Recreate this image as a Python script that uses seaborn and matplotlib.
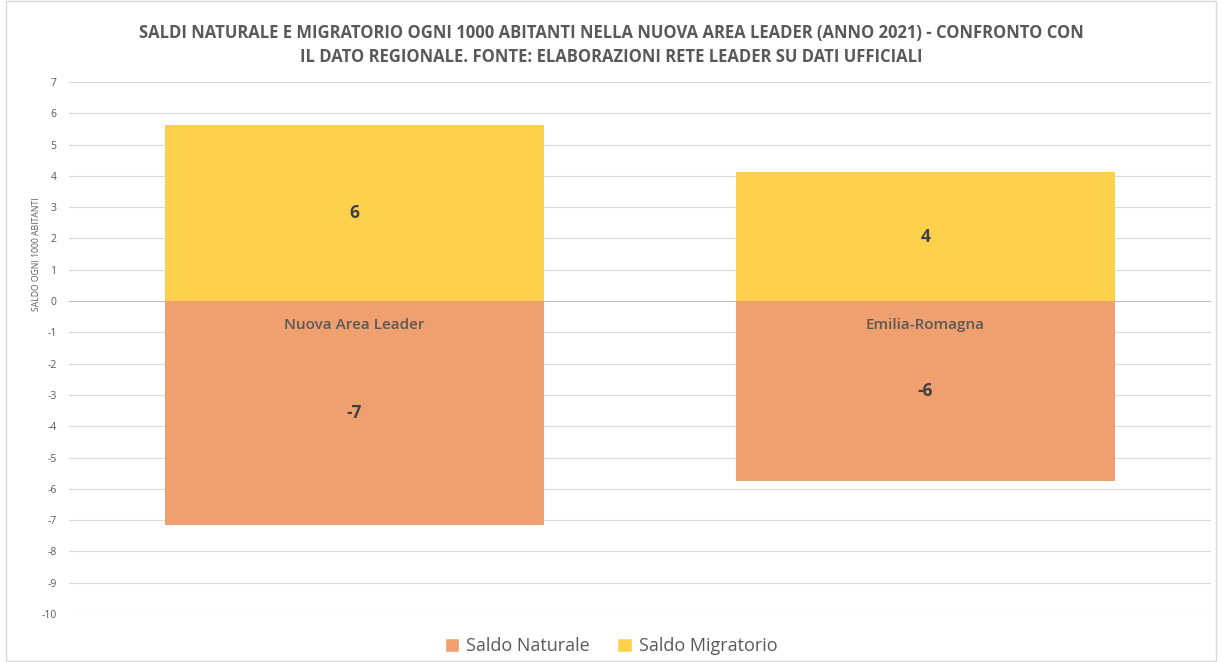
import matplotlib
matplotlib.use("Agg")
import matplotlib.pyplot as plt
import seaborn as sns
import pandas as pd
from matplotlib.patches import Patch, Rectangle

categories = ["Nuova Area Leader", "Emilia-Romagna"]
saldo_naturale = [-7.16, -5.75]
saldo_migratorio = [5.62, 4.12]
y_ticks = list(range(-10, 8))

title = ("SALDI NATURALE E MIGRATORIO OGNI 1000 ABITANTI NELLA NUOVA AREA LEADER (ANNO 2021) - CONFRONTO CON\n"
         "IL DATO REGIONALE. FONTE: ELABORAZIONI RETE LEADER SU DATI UFFICIALI")

c_nat = "#EFA06E"
c_mig = "#FDD14B"
txt = "#595959"

sns.set_theme(style="white")
plt.rcParams["font.family"] = ["Open Sans", "DejaVu Sans"]

fig = plt.figure(figsize=(12.22, 6.62), dpi=100)
ax = fig.add_axes([69/1222, 1-614/662, (1211-69)/1222, (614-82)/662])

df = pd.DataFrame({"cat": categories, "nat": saldo_naturale, "mig": saldo_migratorio})
sns.barplot(data=df, x="cat", y="mig", color=c_mig, saturation=1, width=0.664, ax=ax, zorder=3, linewidth=0)
sns.barplot(data=df, x="cat", y="nat", color=c_nat, saturation=1, width=0.664, ax=ax, zorder=3, linewidth=0)

ax.set_ylim(-10, 7)
ax.set_xlim(-0.5, 1.5)
ax.set_yticks(y_ticks)
ax.set_yticklabels([str(v) for v in y_ticks], fontsize=7.5, color=txt)
ax.tick_params(axis="y", length=0, pad=9)
ax.set_xticks([])
ax.set_xlabel("")
ax.set_ylabel("SALDO OGNI 1000 ABITANTI", fontsize=6.2, color=txt)
ax.yaxis.set_label_coords((41 - 69) / 1142, (614 - 254) / 532)
for s in ax.spines.values():
    s.set_visible(False)
for v in y_ticks:
    ax.axhline(v, color="#D9D9D9" if v != 0 else "#BFBFBF", lw=0.8, zorder=1)

for i, cat in enumerate(categories):
    ax.text(i, saldo_migratorio[i] / 2, f"{saldo_migratorio[i]:.0f}", ha="center", va="center",
            fontsize=12.5, fontweight="bold", color="#404040", zorder=5)
    ax.text(i, saldo_naturale[i] / 2, f"{saldo_naturale[i]:.0f}", ha="center", va="center",
            fontsize=12.5, fontweight="bold", color="#404040", zorder=5)
    ax.text(i, -0.78, cat, ha="center", va="center", fontsize=11, fontweight="semibold",
            color=txt, zorder=5)

fig.text(0.5, 1-45/662, title, ha="center", va="center", fontsize=12, fontweight="bold",
         color=txt, linespacing=1.45)

handles = [Patch(facecolor=c_nat, label="Saldo Naturale"), Patch(facecolor=c_mig, label="Saldo Migratorio")]
fig.legend(handles=handles, loc="center", bbox_to_anchor=(0.5, 1-646/662), ncol=2, frameon=False,
           fontsize=13, handlelength=0.8, handleheight=0.8, handletextpad=0.4, columnspacing=1.5,
           labelcolor=txt)

fig.patches.append(Rectangle((6/1222, 0.002), 1-12/1222, 0.996, transform=fig.transFigure,
                             fill=False, edgecolor="#D9D9D9", lw=1))

fig.savefig("out.png", dpi=100)
